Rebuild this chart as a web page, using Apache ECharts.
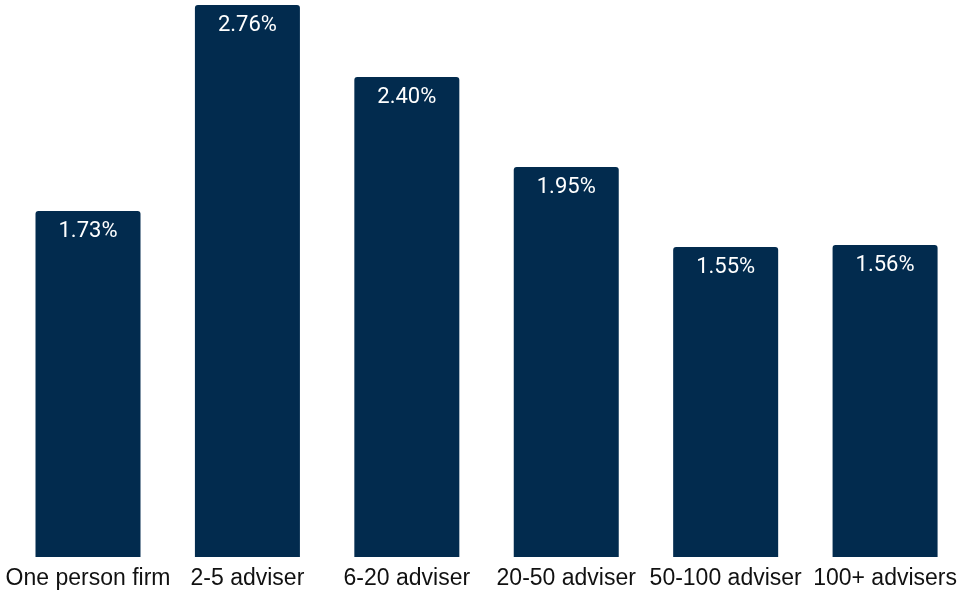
<!DOCTYPE html>
<html>
<head>
<meta charset="utf-8">
<script src="https://cdn.jsdelivr.net/npm/echarts@6/dist/echarts.min.js"></script>
<style>
  html, body { margin: 0; padding: 0; background: #fff; }
  #chart { width: 960px; height: 595px; }
</style>
</head>
<body>
<div id="chart"></div>
<script>
// Firm size categories and their rates (%)
const categories = ['One person firm', '2-5 adviser', '6-20 adviser', '20-50 adviser', '50-100 adviser', '100+ advisers'];
const rates = [1.73, 2.76, 2.40, 1.95, 1.55, 1.56];

const chart = echarts.init(document.getElementById('chart'), null, { renderer: 'canvas' });
chart.setOption({
  animation: false,
  backgroundColor: '#ffffff',
  // bars sit on the ticks (boundaryGap off), so the grid spans first to last bar centre
  grid: { left: 88, right: 73.5, top: 5, bottom: 38, containLabel: false },
  xAxis: {
    type: 'category',
    data: categories,
    boundaryGap: false,
    axisLine: { show: false },
    axisTick: { show: false },
    splitLine: { show: false },
    axisLabel: {
      color: '#111111',
      fontFamily: 'Liberation Sans, Arial, sans-serif',
      fontSize: 23,
      margin: 10,
      interval: 0
    }
  },
  yAxis: {
    type: 'value',
    min: 0,
    max: 2.76,
    show: false,
    splitLine: { show: false }
  },
  series: [{
    type: 'bar',
    data: rates,
    barWidth: 105,
    clip: false,
    itemStyle: { color: '#022b4e', borderRadius: [3, 3, 0, 0] },
    label: {
      show: true,
      position: 'insideTop',
      distance: 9,
      color: '#ffffff',
      fontFamily: 'Roboto, sans-serif',
      fontSize: 22,
      formatter: p => p.value.toFixed(2) + '%'
    }
  }]
});
</script>
</body>
</html>
